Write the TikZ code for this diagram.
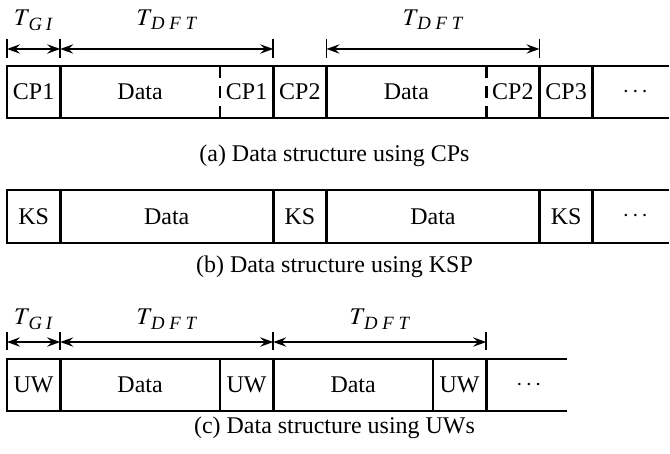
\documentclass[tikz,border=0pt]{standalone}
\usepackage{mathptmx}
\usepackage{fontspec}
\setmainfont{Liberation Serif}
\usetikzlibrary{arrows.meta}
\newcommand{\subit}[1]{\mbox{\fontsize{10}{12}\selectfont\itshape #1}}

\begin{document}
\begin{tikzpicture}[font=\fontsize{12.8}{15}\selectfont,
    wall/.style={line width=1.4pt},
    seam/.style={line width=1.4pt, dash pattern=on 6.6pt off 4pt},
    span/.style={{Stealth[length=7pt,width=5pt,inset=2.5pt]}-{Stealth[length=7pt,width=5pt,inset=2.5pt]}, line width=0.9pt},
    tick/.style={line width=0.9pt}]
    \useasboundingbox (-0.131,0) rectangle (12.451,-8.507);

    % (a) cyclic prefix
    \draw[wall] (12.43,-1.239) -- (0,-1.239) -- (0,-2.216) -- (12.43,-2.216);
    \foreach \x in {1,5,6,10,11}
        \draw[wall] (\x,-1.239) -- (\x,-2.216);
    \foreach \x in {4,9}
        \draw[seam] (\x,-1.239) -- (\x,-2.216);
    \foreach \x/\txt/\n in {0.5/CP1/cpa1, 2.5/Data/da1, 4.5/CP1/cpa2, 5.5/CP2/cpa3,
        7.5/Data/da2, 9.5/CP2/cpa4, 10.5/CP3/cpa5, 11.8/$\cdots$/moa}
        \node (\n) at (\x,-1.7275) {\txt};
    \foreach \x in {0,1,5,6,10}
    {
        \coordinate (ta\x) at (\x,-0.92);
        \draw[tick] (\x,-0.732) -- (\x,-1.089);
    }
    \draw[span] (ta0) -- node[yshift=0.432cm, anchor=base] (gia) {$T_{\subit{\,G\hspace{2pt}I}}$} (ta1);
    \draw[span] (ta1) -- node[yshift=0.432cm, anchor=base] (dfta1) {$T_{\subit{\,D\hspace{2.5pt}F\hspace{2.5pt}T}}$} (ta5);
    \draw[span] (ta6) -- node[yshift=0.432cm, anchor=base] (dfta2) {$T_{\subit{\,D\hspace{2.5pt}F\hspace{2.5pt}T}}$} (ta10);
    \node (capa) at (6.15,-2.93) {(a) Data structure using CPs};

    % (b) known sequence
    \draw[wall] (12.43,-3.568) -- (0,-3.568) -- (0,-4.563) -- (12.43,-4.563);
    \foreach \x in {1,5,6,10,11}
        \draw[wall] (\x,-3.568) -- (\x,-4.563);
    \foreach \x/\txt/\n in {0.5/KS/ksb1, 3/Data/db1, 5.5/KS/ksb2, 8/Data/db2,
        10.5/KS/ksb3, 11.8/$\cdots$/mob}
        \node (\n) at (\x,-4.0655) {\txt};
    \node (capb) at (6.15,-5.014) {(b) Data structure using KSP};

    % (c) unique word
    \draw[wall] (10.52,-6.742) -- (0,-6.742) -- (0,-7.718) -- (10.52,-7.718);
    \foreach \x in {1,4,5,8,9}
        \draw[wall] (\x,-6.742) -- (\x,-7.718);
    \foreach \x/\txt/\n in {0.5/UW/uwc1, 2.5/Data/dc1, 4.5/UW/uwc2, 6.5/Data/dc2,
        8.5/UW/uwc3, 9.8/$\cdots$/moc}
        \node (\n) at (\x,-7.23) {\txt};
    \foreach \x in {0,1,5,9}
    {
        \coordinate (tc\x) at (\x,-6.423);
        \draw[tick] (\x,-6.235) -- (\x,-6.573);
    }
    \draw[span] (tc0) -- node[yshift=0.32cm, anchor=base] (gic) {$T_{\subit{\,G\hspace{2pt}I}}$} (tc1);
    \draw[span] (tc1) -- node[yshift=0.32cm, anchor=base] (dftc1) {$T_{\subit{\,D\hspace{2.5pt}F\hspace{2.5pt}T}}$} (tc5);
    \draw[span] (tc5) -- node[yshift=0.32cm, anchor=base] (dftc2) {$T_{\subit{\,D\hspace{2.5pt}F\hspace{2.5pt}T}}$} (tc9);
    \node (capc) at (6.15,-8.04) {(c) Data structure using UWs};
\end{tikzpicture}
\end{document}
